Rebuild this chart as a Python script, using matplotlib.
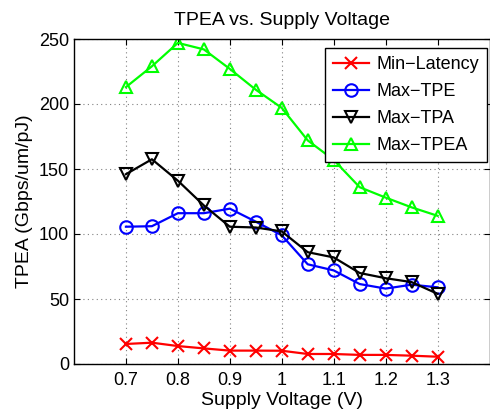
import matplotlib
matplotlib.use("Agg")
import matplotlib.pyplot as plt

plt.rcParams['font.family'] = ['Liberation Sans', 'DejaVu Sans']

voltage = [0.7, 0.75, 0.8, 0.85, 0.9, 0.95, 1.0, 1.05, 1.1, 1.15, 1.2, 1.25, 1.3]
min_latency = [15.4, 16.4, 13.8, 12.0, 10.3, 10.3, 10.2, 7.7, 7.7, 7.0, 7.0, 6.4, 5.6]
max_tpe = [105.6, 106, 116, 116, 119.5, 109.5, 99, 76.7, 72, 61.5, 58, 61, 59]
max_tpa = [146, 157.5, 141, 122, 105.6, 105, 102, 86, 82, 70, 66, 63, 54]
max_tpea = [213, 229, 247, 242, 227, 211, 197, 172, 157, 136, 128, 120.5, 114]

x_ticks = [0.7, 0.8, 0.9, 1.0, 1.1, 1.2, 1.3]
x_tick_labels = ['0.7', '0.8', '0.9', '1', '1.1', '1.2', '1.3']
y_ticks = [0, 50, 100, 150, 200, 250]

fig = plt.figure(figsize=(4.9, 4.13), dpi=100)
ax = fig.add_axes([74 / 490, 49 / 413, 415.5 / 490, 325 / 413])

common = dict(linewidth=1.6, markersize=9, markeredgewidth=1.5, markerfacecolor='none')
ax.plot(voltage, min_latency, color='#ff0000', marker='x', label='Min\u2212Latency', **common)
ax.plot(voltage, max_tpe, color='#0000ff', marker='o', label='Max\u2212TPE', **common)
ax.plot(voltage, max_tpa, color='#000000', marker='v', label='Max\u2212TPA', **common)
ax.plot(voltage, max_tpea, color='#00ff00', marker='^', label='Max\u2212TPEA', **common)

ax.set_xlim(0.6, 1.4)
ax.set_ylim(0, 250)
ax.set_xticks(x_ticks)
ax.set_xticklabels(x_tick_labels)
ax.set_yticks(y_ticks)
ax.tick_params(direction='in', top=True, right=True, labelsize=13, length=4, width=0.8)
ax.tick_params(axis='x', pad=6)
ax.grid(True, linestyle=(0, (1, 3)), color='#808080', linewidth=0.8)
for s in ax.spines.values():
    s.set_linewidth(1.0)

ax.set_title('TPEA vs. Supply Voltage', fontsize=14, pad=10)
ax.set_xlabel('Supply Voltage (V)', fontsize=14, labelpad=2)
ax.set_ylabel('TPEA (Gbps/um/pJ)', fontsize=14, labelpad=4)

leg = ax.legend(loc='upper right', bbox_to_anchor=(487 / 490, 365 / 413),
                bbox_transform=fig.transFigure, borderaxespad=0,
                fontsize=13, frameon=True, fancybox=False,
                edgecolor='black', framealpha=1,
                handlelength=2.0, handletextpad=0.4, labelspacing=0.55, borderpad=0.45)
leg.get_frame().set_linewidth(1.0)

fig.savefig('out.png', dpi=100)
